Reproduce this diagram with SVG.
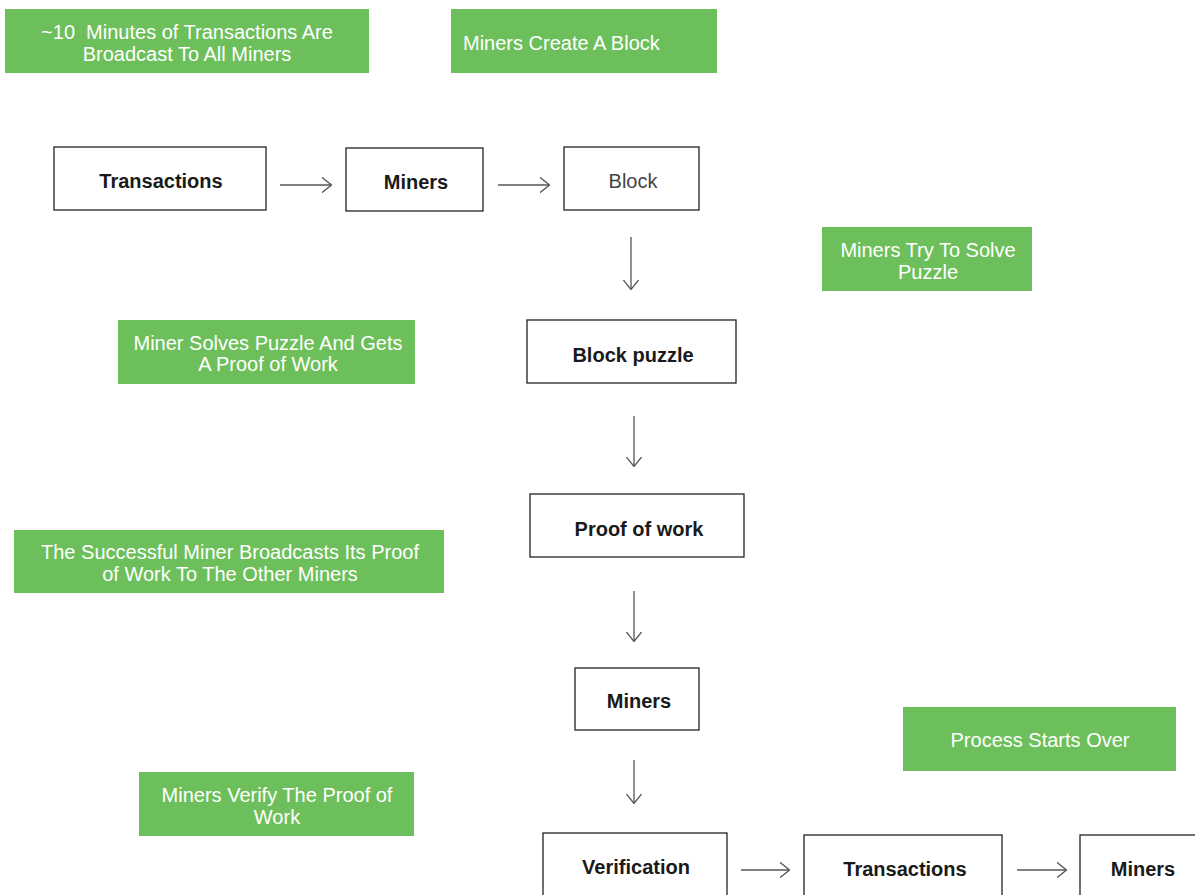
<svg xmlns="http://www.w3.org/2000/svg" width="1195" height="895" viewBox="0 0 1195 895">
<style>
.g{fill:#6dbf5b}
.gt{fill:#ffffff;font-family:"Liberation Sans",sans-serif;font-size:20px;text-anchor:middle}
.b{fill:#ffffff;stroke:#222;stroke-width:1.3}
.bt{fill:#1a1a1a;font-family:"Liberation Sans",sans-serif;font-size:20px;font-weight:bold;text-anchor:middle}
.nt{fill:#444;font-family:"Liberation Sans",sans-serif;font-size:20px;text-anchor:middle}
.c{stroke:#555;stroke-width:1.3;fill:none;marker-end:url(#ah)}
</style>
<defs>
<marker id="ah" viewBox="0 0 10 16" refX="9.5" refY="8" markerWidth="10" markerHeight="16" markerUnits="userSpaceOnUse" orient="auto">
<path d="M0,0 L10,8 L0,16" fill="none" stroke="#555" stroke-width="1.3"/>
</marker>
</defs>
<rect width="1195" height="895" fill="#ffffff"/>
<g id="note1"><rect class="g" x="5" y="9" width="364" height="64"/><text class="gt" x="187" y="39" xml:space="preserve">~10  Minutes of Transactions Are</text><text class="gt" x="187" y="61">Broadcast To All Miners</text></g>
<g id="note2"><rect class="g" x="451" y="9" width="266" height="64"/><text class="gt" x="463" y="50" style="text-anchor:start">Miners Create A Block</text></g>
<g id="note3"><rect class="g" x="822" y="227" width="210" height="64"/><text class="gt" x="928" y="257">Miners Try To Solve</text><text class="gt" x="928" y="279">Puzzle</text></g>
<g id="note4"><rect class="g" x="118" y="320" width="297" height="64"/><text class="gt" x="268" y="350">Miner Solves Puzzle And Gets</text><text class="gt" x="268" y="371">A Proof of Work</text></g>
<g id="note5"><rect class="g" x="14" y="530" width="430" height="63"/><text class="gt" x="230" y="559">The Successful Miner Broadcasts Its Proof</text><text class="gt" x="230" y="581">of Work To The Other Miners</text></g>
<g id="note6"><rect class="g" x="903" y="707" width="273" height="64"/><text class="gt" x="1040" y="747">Process Starts Over</text></g>
<g id="note7"><rect class="g" x="139" y="772" width="275" height="64"/><text class="gt" x="277" y="802">Miners Verify The Proof of</text><text class="gt" x="277" y="824">Work</text></g>
<g id="transactions1"><rect class="b" x="54" y="147" width="212" height="63"/><text class="bt" x="161" y="188">Transactions</text></g>
<g id="miners1"><rect class="b" x="346" y="148" width="137" height="63"/><text class="bt" x="416" y="189">Miners</text></g>
<g id="block"><rect class="b" x="564" y="147" width="135" height="63"/><text class="nt" x="633" y="188">Block</text></g>
<g id="blockpuzzle"><rect class="b" x="527" y="320" width="209" height="63"/><text class="bt" x="633" y="362">Block puzzle</text></g>
<g id="proofofwork"><rect class="b" x="530" y="494" width="214" height="63"/><text class="bt" x="639" y="536">Proof of work</text></g>
<g id="miners2"><rect class="b" x="575" y="668" width="124" height="62"/><text class="bt" x="639" y="708">Miners</text></g>
<g id="verification"><rect class="b" x="543" y="833" width="184" height="70"/><text class="bt" x="636" y="874">Verification</text></g>
<g id="transactions2"><rect class="b" x="804" y="835" width="198" height="70"/><text class="bt" x="905" y="876">Transactions</text></g>
<g id="miners3"><rect class="b" x="1080" y="835" width="130" height="70"/><text class="bt" x="1143" y="876">Miners</text></g>
<g id="connectors">
<line class="c" x1="280" y1="185" x2="331" y2="185"/>
<line class="c" x1="498" y1="185" x2="549" y2="185"/>
<line class="c" x1="631" y1="237" x2="631" y2="289"/>
<line class="c" x1="634" y1="416" x2="634" y2="466"/>
<line class="c" x1="634" y1="591" x2="634" y2="641"/>
<line class="c" x1="634" y1="760" x2="634" y2="803"/>
<line class="c" x1="741" y1="870" x2="789" y2="870"/>
<line class="c" x1="1017" y1="870" x2="1066" y2="870"/>
</g>
</svg>
